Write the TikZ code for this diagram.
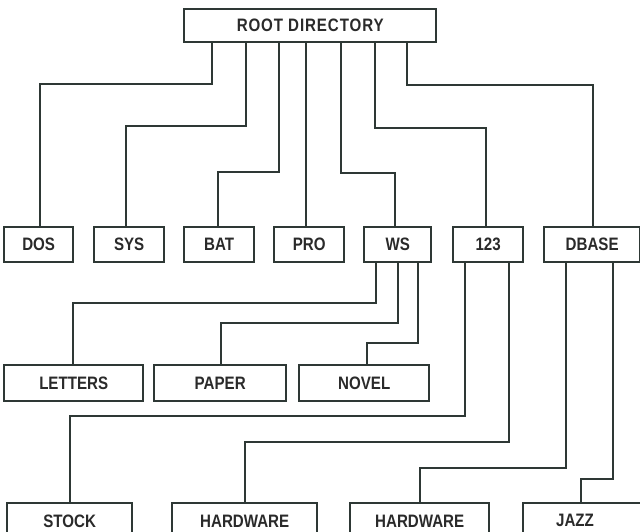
\documentclass[tikz,border=0pt]{standalone}
\usepackage{fontspec}
\setmainfont{Liberation Sans}[FakeStretch=0.84]
\definecolor{ink}{HTML}{2E3835}
\definecolor{txt}{HTML}{2A2A2A}
\tikzset{
  box/.style={draw=ink, line width=2.4pt, rectangle, inner sep=0pt, anchor=north west,
    font=\fontsize{18}{20}\selectfont\bfseries, text=txt},
  wire/.style={draw=ink, line width=1.3pt},
  lbl/.style={inner sep=0pt, font=\fontsize{18}{20}\selectfont\bfseries, text=txt}
}
\begin{document}
\begin{tikzpicture}[x=1pt,y=-1pt]
\clip (0,0) rectangle (640,531);
\fill[white] (0,0) rectangle (640,531);
% root
\node[box, minimum width=252pt, minimum height=33pt] (root) at (183,8) {\addfontfeature{LetterSpace=5}ROOT DIRECTORY};
% level 1
\node[box, minimum width=69pt, minimum height=35pt] (dos) at (3,226) {DOS};
\node[box, minimum width=70pt, minimum height=35pt] (sys) at (93,226) {SYS};
\node[box, minimum width=70pt, minimum height=35pt] (bat) at (183,226) {BAT};
\node[box, minimum width=70pt, minimum height=35pt] (pro) at (273,226) {PRO};
\node[box, minimum width=67pt, minimum height=35pt] (ws) at (363,226) {WS};
\node[box, minimum width=70pt, minimum height=35pt] (lotus) at (452,226) {123};
\node[box, minimum width=96pt, minimum height=35pt] (dbase) at (543,226) {DBASE};
% level 2
\node[box, minimum width=139pt, minimum height=36pt] (letters) at (3,364) {LETTERS};
\node[box, minimum width=132pt, minimum height=36pt] (paper) at (153,364) {PAPER};
\node[box, minimum width=130pt, minimum height=36pt] (novel) at (298,364) {NOVEL};
% level 3
\node[box, minimum width=125pt, minimum height=36pt] (stock) at (6,502) {STOCK};
\node[box, minimum width=145pt, minimum height=36pt] (hwa) at (171,502) {HARDWARE};
\node[box, minimum width=139pt, minimum height=36pt] (hwb) at (349,502) {HARDWARE};
\node[box, minimum width=138pt, minimum height=36pt] (jazz) at (522,502) {};
\node[lbl] (jazzlbl) at (575,520) {JAZZ};
% connectors from root
\draw[wire] (212,0 |- root.south) |- (40,84) -- (40,0 |- dos.north);
\draw[wire] (246,0 |- root.south) |- (126,126) -- (126,0 |- sys.north);
\draw[wire] (279,0 |- root.south) |- (218,172) -- (218,0 |- bat.north);
\draw[wire] (306,0 |- root.south) -- (306,0 |- pro.north);
\draw[wire] (341,0 |- root.south) |- (395,173) -- (395,0 |- ws.north);
\draw[wire] (375,0 |- root.south) |- (486,128) -- (486,0 |- lotus.north);
\draw[wire] (407,0 |- root.south) |- (593,85) -- (593,0 |- dbase.north);
% WS children
\draw[wire] (376,0 |- ws.south) |- (73,303) -- (73,0 |- letters.north);
\draw[wire] (398,0 |- ws.south) |- (221,323) -- (221,0 |- paper.north);
\draw[wire] (418,0 |- ws.south) |- (367,343) -- (367,0 |- novel.north);
% 123 children
\draw[wire] (465,0 |- lotus.south) |- (70,416) -- (70,0 |- stock.north);
\draw[wire] (509,0 |- lotus.south) |- (245,442) -- (245,0 |- hwa.north);
% DBASE children
\draw[wire] (566,0 |- dbase.south) |- (420,468) -- (420,0 |- hwb.north);
\draw[wire] (613,0 |- dbase.south) |- (581,479) -- (581,0 |- jazz.north);
\end{tikzpicture}
\end{document}
